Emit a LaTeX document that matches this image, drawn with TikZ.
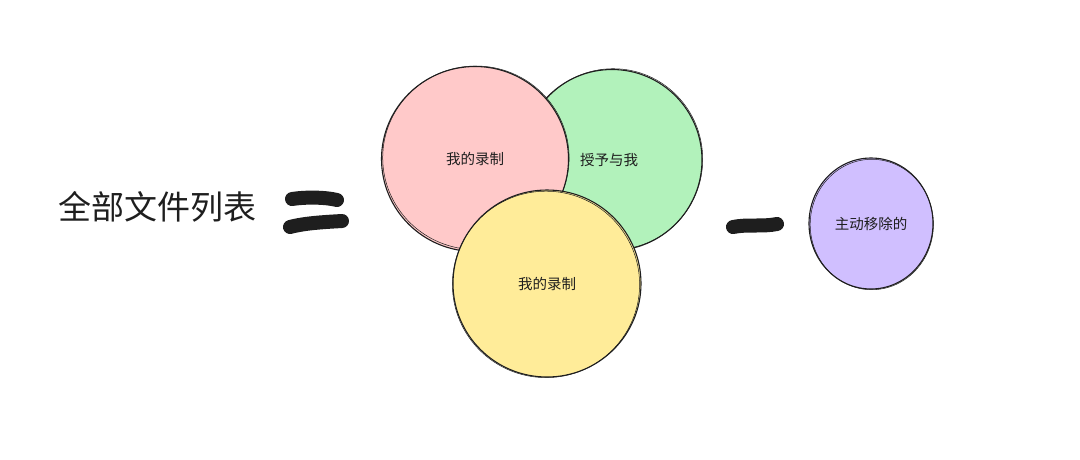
\documentclass[tikz,border=0pt]{standalone}
\usepackage{fontspec}
\setmainfont{Noto Sans CJK SC}
\usetikzlibrary{shapes.geometric}
\definecolor{ink}{HTML}{1E1E1E}
\definecolor{cpink}{HTML}{FFC9C9}
\definecolor{cgreen}{HTML}{B2F2BB}
\definecolor{cyellow}{HTML}{FFEC99}
\definecolor{cpurple}{HTML}{D0BFFF}
\tikzset{
  setc/.style={ellipse, draw=ink, line width=1.1pt, inner sep=0pt, text=ink, font=\fontsize{14.5}{16}\selectfont},
  sketch/.style={draw=ink, line width=0.5pt},
  bar/.style={draw=ink, line width=14pt, line cap=round, line join=round},
  title/.style={text=ink, font=\fontsize{33}{37}\selectfont, inner sep=0pt}
}
\begin{document}
\begin{tikzpicture}[x=1pt,y=-1pt]
\useasboundingbox[fill=white] (0,0) rectangle (1080,459);
% title
\node[title] (all) at (157.5,207) {全部文件列表};
% equals sign
\coordinate (e1a) at (292,199);
\coordinate (e1b) at (337,200);
\coordinate (e2a) at (290,227);
\coordinate (e2b) at (342,221);
\draw[bar] (e1a) .. controls (305,197) and (325,197) .. (e1b);
\draw[bar] (e2a) .. controls (305,223) and (325,222) .. (e2b);
% sets
\node[setc, fill=cgreen, minimum width=180pt, minimum height=181pt] (green) at (612,160) {};
\node[text=ink, font=\fontsize{14.5}{16}\selectfont, inner sep=0pt] (gtext) at (609,160) {授予与我};
\draw[sketch] (green.center) ++(1.2,-0.8) ellipse (89.5 and 90.5);
\node[setc, fill=cpink, minimum width=187pt, minimum height=185pt] (pink) at (475,159) {我的录制};
\draw[sketch] (pink.center) ++(0.9,-1.2) ellipse (93.2 and 91.8);
\node[setc, fill=cyellow, minimum width=188pt, minimum height=187pt] (yellow) at (547,283.5) {我的录制};
\draw[sketch] (yellow.center) ++(-1,0.9) ellipse (93.6 and 93.2);
% minus
\coordinate (m1) at (733,227);
\coordinate (m2) at (777,224);
\draw[bar] (m1) .. controls (748,224) and (762,227) .. (m2);
% removed
\node[setc, fill=cpurple, minimum width=124pt, minimum height=131pt] (removed) at (871,223.5) {主动移除的};
\draw[sketch] (removed.center) ++(0.8,1) ellipse (61.6 and 65.2);
\end{tikzpicture}
\end{document}
